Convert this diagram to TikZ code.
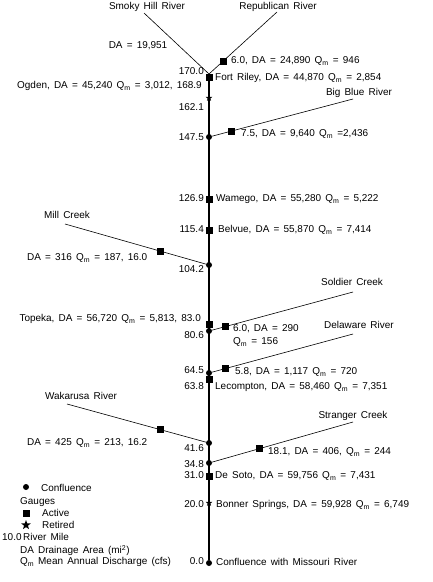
\documentclass[tikz,border=0pt]{standalone}
\usepackage{fontspec}
\setmainfont{Liberation Sans}
\usetikzlibrary{shapes.geometric}

\newcommand{\Qm}{Q\textsubscript{m}}
\newcommand{\widesp}{\spaceskip=0.42em plus 0.1em\relax}

\begin{document}
\begin{tikzpicture}[x=1bp, y=-1bp,
    conf/.style={circle, fill, inner sep=0, minimum size=6bp},
    gauge/.style={rectangle, fill, inner sep=0, minimum size=7bp},
    retired/.style={star, star points=5, star point ratio=2.4, fill, inner sep=0, minimum size=7bp},
    txt/.style={inner sep=0, font=\fontsize{10}{12}\selectfont\widesp},
    stem/.style={line width=1.3bp},
    trib/.style={line width=0.6bp}]
  \useasboundingbox (0,0) rectangle (432,582);

  % points on the main stem
  \coordinate (j170) at (209,74);
  \node[gauge] (fortriley) at (209,78) {};
  \node[retired] (ogden) at (209,98) {};
  \node[conf] (c147) at (209,137) {};
  \node[gauge] (wamego) at (209,199) {};
  \node[gauge] (belvue) at (209,230) {};
  \node[conf] (c104) at (209,265) {};
  \node[gauge] (topeka) at (209,324) {};
  \node[conf] (c80) at (209,331) {};
  \node[conf] (c64) at (209,373) {};
  \node[gauge] (lecompton) at (209,379) {};
  \node[conf] (c41) at (209,443) {};
  \node[conf] (c34) at (209,463) {};
  \node[gauge] (desoto) at (209,476) {};
  \node[retired] (bonner) at (209,503) {};
  \node[conf] (c00) at (209,563) {};
  \draw[stem] (j170) -- (c00);

  % tributaries
  \node[txt] (smoky) at (147,7) {Smoky Hill River};
  \coordinate (smoky-end) at (144,13);
  \draw[trib] (smoky-end) -- (j170);
  \node[txt] (republican) at (278,7) {Republican River};
  \coordinate (republican-end) at (277,12);
  \draw[trib] (republican-end) -- (j170) node[gauge, pos=0.794] (g-republican) {};
  \node[txt] (bigblue) at (359,93) {Big Blue River};
  \coordinate (bigblue-end) at (353,99);
  \draw[trib] (bigblue-end) -- (c147) node[gauge, pos=0.861] (g-bigblue) {};
  \node[txt] (mill) at (67,215) {Mill Creek};
  \coordinate (mill-end) at (65,224);
  \draw[trib] (mill-end) -- (c104) node[gauge, pos=0.68] (g-mill) {};
  \node[txt] (soldier) at (352,282) {Soldier Creek};
  \coordinate (soldier-end) at (353,292);
  \draw[trib] (soldier-end) -- (c80) node[gauge, pos=0.903] (g-soldier) {};
  \node[txt] (delaware) at (359,325) {Delaware River};
  \coordinate (delaware-end) at (353,334);
  \draw[trib] (delaware-end) -- (c64) node[gauge, pos=0.903] (g-delaware) {};
  \node[txt] (wakarusa) at (81,396) {Wakarusa River};
  \coordinate (wakarusa-end) at (67,404);
  \draw[trib] (wakarusa-end) -- (c41) node[gauge, pos=0.676] (g-wakarusa) {};
  \node[txt] (stranger) at (353,416) {Stranger Creek};
  \coordinate (stranger-end) at (353,422);
  \draw[trib] (stranger-end) -- (c34) node[gauge, pos=0.66] (g-stranger) {};

  % river miles
  \node[txt, anchor=mid east] at (204,72) {170.0};
  \node[txt, anchor=mid east] at (204,108) {162.1};
  \node[txt, anchor=mid east] at (204,138) {147.5};
  \node[txt, anchor=mid east] at (204,199) {126.9};
  \node[txt, anchor=mid east] at (204,230) {115.4};
  \node[txt, anchor=mid east] at (204,270) {104.2};
  \node[txt, anchor=mid east] at (204,336) {80.6};
  \node[txt, anchor=mid east] at (204,371) {64.5};
  \node[txt, anchor=mid east] at (204,387) {63.8};
  \node[txt, anchor=mid east] at (204,449) {41.6};
  \node[txt, anchor=mid east] at (204,465) {34.8};
  \node[txt, anchor=mid east] at (204,476) {31.0};
  \node[txt, anchor=mid east] at (204,505) {20.0};
  \node[txt, anchor=mid east] at (204,562) {0.0};

  % gauge and confluence labels
  \node[txt] at (138,46) {DA = 19,951};
  \node[txt, anchor=mid west] at (231,61) {6.0, DA = 24,890 \Qm{} = 946};
  \node[txt, anchor=mid west] at (215,78) {Fort Riley, DA = 44,870 \Qm{} = 2,854};
  \node[txt, anchor=mid east] at (202,86) {Ogden, DA = 45,240 \Qm{} = 3,012, 168.9};
  \node[txt, anchor=mid west] at (241,134) {7.5, DA = 9,640 \Qm{} =2,436};
  \node[txt, anchor=mid west] at (216,199) {Wamego, DA = 55,280 \Qm{} = 5,222};
  \node[txt, anchor=mid west] at (218,230) {Belvue, DA = 55,870 \Qm{} = 7,414};
  \node[txt, anchor=mid west] at (27,258) {DA = 316 \Qm{} = 187, 16.0};
  \node[txt, anchor=mid east] at (201,319) {Topeka, DA = 56,720 \Qm{} = 5,813, 83.0};
  \node[txt, anchor=mid west] at (233,329) {6.0, DA = 290};
  \node[txt, anchor=mid west] at (233,342) {\Qm{} = 156};
  \node[txt, anchor=mid west] at (235,372) {5.8, DA = 1,117 \Qm{} = 720};
  \node[txt, anchor=mid west] at (215,387) {Lecompton, DA = 58,460 \Qm{} = 7,351};
  \node[txt, anchor=mid west] at (27,443) {DA = 425 \Qm{} = 213, 16.2};
  \node[txt, anchor=mid west] at (268,452) {18.1, DA = 406, \Qm{} = 244};
  \node[txt, anchor=mid west] at (215,476) {De Soto, DA = 59,756 \Qm{} = 7,431};
  \node[txt, anchor=mid west] at (216,505) {Bonner Springs, DA = 59,928 \Qm{} = 6,749};
  \node[txt, anchor=mid west] at (216,563) {Confluence with Missouri River};

  % legend
  \node[conf] (key-conf) at (26,487) {};
  \node[txt, anchor=mid west] at (41,489) {Confluence};
  \node[txt, anchor=mid west] at (20,502) {Gauges};
  \node[gauge] (key-gauge) at (26,513) {};
  \node[txt, anchor=mid west] at (42,514) {Active};
  \node[retired, minimum size=10bp] (key-retired) at (26,525) {};
  \node[txt, anchor=mid west] at (42,526) {Retired};
  \node[txt, anchor=mid west] at (2,538) {10.0};
  \node[txt, anchor=mid west] at (23,538) {River Mile};
  \node[txt, anchor=mid west] at (20,551) {DA};
  \node[txt, anchor=mid west] at (38,551) {Drainage Area (mi\textsuperscript{2})};
  \node[txt, anchor=mid west] at (20,562) {\Qm};
  \node[txt, anchor=mid west] at (38,562) {Mean Annual Discharge (cfs)};
\end{tikzpicture}
\end{document}
